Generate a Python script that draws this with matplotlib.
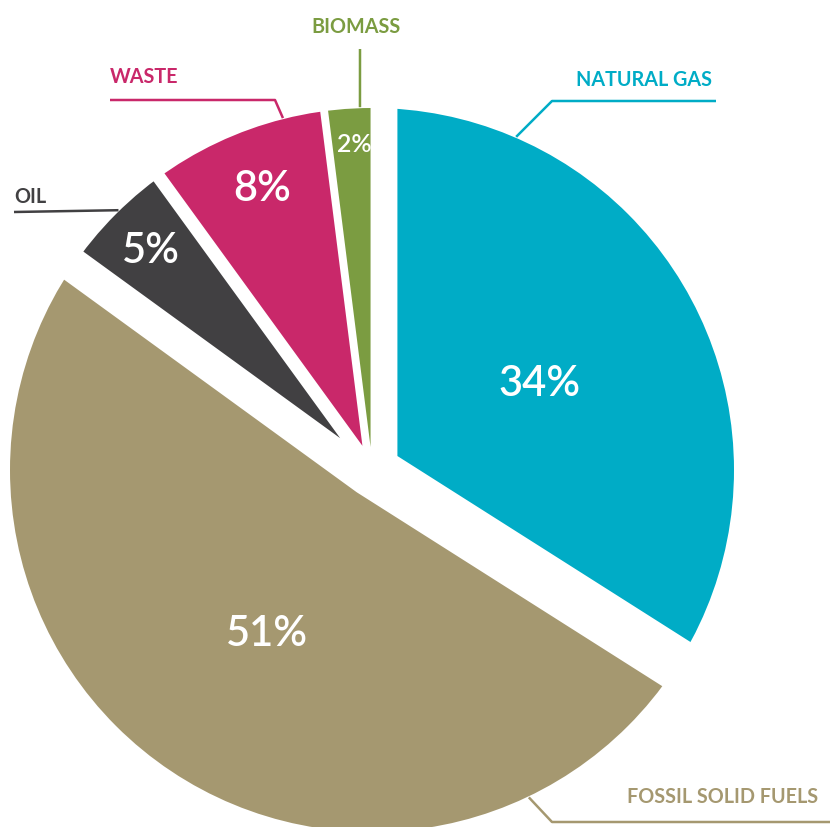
import numpy as np
import matplotlib.pyplot as plt
from matplotlib.patches import Circle

categories = ["NATURAL GAS", "FOSSIL SOLID FUELS", "OIL", "WASTE", "BIOMASS"]
shares = [34, 51, 5, 8, 2]
colors = ["#00acc6", "#a59870", "#414042", "#c9286a", "#7b9c41"]

W, H = 833, 827
fig = plt.figure(figsize=(W / 100, H / 100), dpi=100)
ax = fig.add_axes([0, 0, 1, 1])

# work in pixel-like units, y measured upward
cx, cy, R = 372, H - 470, 362
explode = [29, 27, 45, 26, 23]

wedges, _ = ax.pie(shares, colors=colors, startangle=90, counterclock=False,
                   explode=explode, radius=R + 70, center=(cx, cy),
                   wedgeprops=dict(linewidth=0))

# every slice is cut from the same disc, so the arcs line up
disc = Circle((cx, cy), R, transform=ax.transData)
for w in wedges:
    w.set_clip_on(True)
    w.set_clip_path(disc)

# percentage labels inside the slices
pct_dist = [0.52, 0.53, 0.875, 0.85, 0.915]
pct_size = [30, 30, 30, 30, 18]
for w, v, d, fs in zip(wedges, shares, pct_dist, pct_size):
    th = np.deg2rad((w.theta1 + w.theta2) / 2)
    ax.text(cx + d * R * np.cos(th) + 3, cy + d * R * np.sin(th) - 5, f"{v}%",
            ha="center", va="center", color="white", fontsize=fs,
            fontweight="semibold", family="Lato")

# leader lines: (angle on rim, elbow/end points in px from top-left, text pos)
def img(x, y):
    return x, H - y

leaders = {
    "NATURAL GAS": (66.6, [(552, 101), (716, 101)], (576, 86), "left"),
    "FOSSIL SOLID FUELS": (-64.4, [(552, 822), (830, 822)], (627, 803), "left"),
    "OIL": (134.3, [(14, 212)], (14, 203), "left"),
    "WASTE": (104.2, [(275, 100), (110, 100)], (110, 83), "left"),
    "BIOMASS": (91.9, [(360, 49)], (356, 33), "center"),
}

for name, col in zip(categories, colors):
    ang, pts, (tx, ty), ha = leaders[name]
    a = np.deg2rad(ang)
    xs = [cx + (R + 1) * np.cos(a)] + [img(*p)[0] for p in pts]
    ys = [cy + (R + 1) * np.sin(a)] + [img(*p)[1] for p in pts]
    ax.plot(xs, ys, color=col, lw=1.8, solid_capstyle="butt", clip_on=False)
    ax.text(*img(tx, ty), name, color=col, fontsize=14.2, fontweight="bold",
            family="Lato", ha=ha, va="baseline")

ax.set_xlim(0, W)
ax.set_ylim(0, H)
ax.set_aspect("equal")
ax.axis("off")

fig.savefig("out.png", dpi=100)
